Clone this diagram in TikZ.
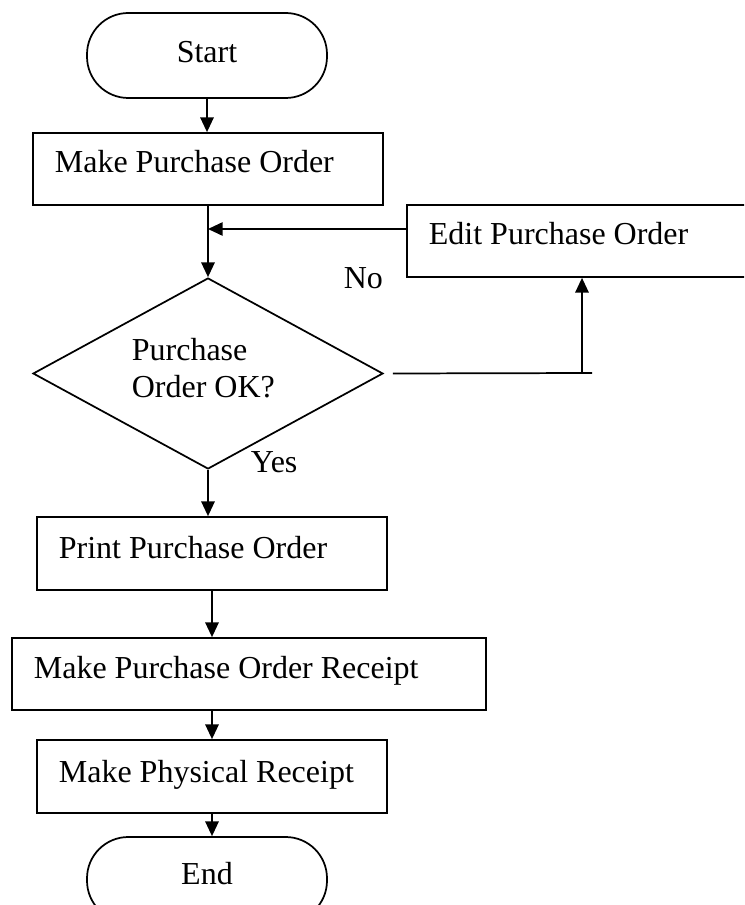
\documentclass[tikz,border=0pt]{standalone}
\usepackage{fontspec}
\setmainfont{Liberation Serif}
\usetikzlibrary{shapes.geometric,arrows.meta}
\begin{document}
\begin{tikzpicture}[x=0.75pt,y=-0.75pt,line width=1.3pt,
  procbox/.style={draw,rectangle,inner sep=0pt,minimum height=54pt},
  termbox/.style={draw,rectangle,rounded corners=31pt,inner sep=0pt,
    minimum width=180pt,minimum height=63.75pt},
  decbox/.style={draw,diamond,inner sep=0pt,minimum width=262.5pt,minimum height=143.25pt},
  txt/.style={inner sep=0pt,anchor=base west,font=\fontsize{24}{29}\selectfont},
  ctxt/.style={txt,anchor=base},
  flow/.style={-{Triangle[length=11pt,width=10pt]}}]
\clip (0,0) rectangle (744,905);

% shapes
\node[termbox] (start) at (207,55.5) {};
\node[procbox,minimum width=262.5pt] (mpo) at (208,169) {};
\node[procbox,minimum width=264.75pt] (edit) at (583.5,241) {};
\node[decbox] (dec) at (208,373.5) {};
\node[procbox,minimum width=262.5pt,minimum height=54.75pt] (print) at (212,553.5) {};
\node[procbox,minimum width=355.5pt] (recpt) at (249,674) {};
\node[procbox,minimum width=262.5pt,minimum height=54.75pt] (phys) at (212,776.5) {};
\node[termbox] (end) at (207,879.5) {};

% texts
\node[ctxt] (tstart) at (207,63) {Start};
\node[txt] (tmpo) at (54,173) {Make Purchase Order};
\node[txt] (tedit) at (428,245) {Edit Purchase Order};
\node[txt] (tdec1) at (131,360) {Purchase};
\node[txt] (tdec2) at (131,397) {Order OK?};
\node[txt] (tno) at (343,288) {No};
\node[txt] (tyes) at (250,472) {Yes};
\node[txt] (tprint) at (58,558) {Print Purchase Order};
\node[txt] (trecpt) at (33,678) {Make Purchase Order Receipt};
\node[txt] (tphys) at (58,782) {Make Physical Receipt};
\node[ctxt] (tend) at (207,884) {End};

% connectors
\coordinate (merge) at (208,229);
\coordinate (noend) at (592,373);
\coordinate (noup) at (582,373);

\draw[flow] (start.south) -- (start.south |- mpo.north);
\draw[flow] (mpo.south) -- (dec.north);
\draw[flow] (edit.west |- merge) -- (merge);
\draw ([xshift=6.75pt]dec.east) -- (noend);
\draw[flow] (noup) -- (noup |- edit.south);
\draw[flow] (dec.south) -- (dec.south |- print.north);
\draw[flow] (print.south) -- (print.south |- recpt.north);
\draw[flow] (phys.north |- recpt.south) -- (phys.north);
\draw[flow] (phys.south) -- (phys.south |- end.north);
\end{tikzpicture}
\end{document}
